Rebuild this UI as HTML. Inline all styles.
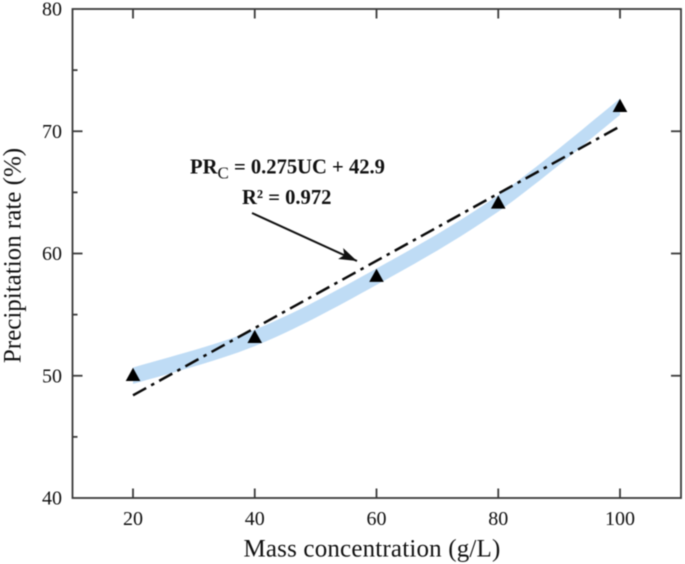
<!DOCTYPE html>
<html lang="en">
<head>
<meta charset="utf-8">
<title>Precipitation rate vs mass concentration</title>
<style>
html,body{margin:0;padding:0;background:#fff;width:685px;height:564px;overflow:hidden}
svg{display:block;filter:blur(0.4px)}
text{font-family:"Liberation Serif","Times New Roman",serif;fill:#111}
</style>
</head>
<body>
<svg id="chart" width="685" height="564" viewBox="0 0 685 564" xmlns="http://www.w3.org/2000/svg">
  <defs>
    <marker id="arrow-head" markerUnits="userSpaceOnUse" markerWidth="20" markerHeight="14" refX="18" refY="6" orient="auto">
      <path d="M0,0 L18,6 L0,12 L4,6 Z" fill="#111"/>
    </marker>
  </defs>
  <g id="band-layer"></g>
  <g id="fit-layer"></g>
  <g id="point-layer"></g>
  <g id="axis-layer"></g>
  <text x="372" y="556.5" font-size="25" text-anchor="middle" letter-spacing="0.18">Mass concentration (g/L)</text>
  <text transform="translate(20.5 255.5) rotate(-90)" font-size="25" text-anchor="middle">Precipitation rate (%)</text>
  <text x="190" y="173.5" font-size="20.6" font-weight="bold">PR<tspan font-size="17" font-weight="normal" dy="5">C</tspan><tspan dy="-5"> = 0.275UC + 42.9</tspan></text>
  <text x="242" y="204" font-size="20.6" font-weight="bold">R² = 0.972</text>
  <line x1="252" y1="213" x2="357" y2="261" stroke="#111" stroke-width="2" marker-end="url(#arrow-head)"/>
</svg>
<script>
const categories = [20, 40, 60, 80, 100];
const precipitationRates = [50, 53.1, 58.1, 64.1, 72];
const fitConcentrations = [20, 100];
const fitRates = [48.4, 70.4];
const xTickLabels = [20, 40, 60, 80, 100];
const yTickLabels = [40, 50, 60, 70, 80];
const yMinorTicks = [45, 55, 65, 75];

const NS = 'http://www.w3.org/2000/svg';
const plot = { left: 72.5, right: 681, top: 9, bottom: 498 };
const xScale = v => 133 + (v - 20) * 6.0875;
const yScale = v => plot.bottom - (v - 40) * 12.225;

function make(tag, parent, attrs, text) {
  const el = document.createElementNS(NS, tag);
  for (const k in attrs) el.setAttribute(k, attrs[k]);
  if (text !== undefined) el.textContent = text;
  parent.appendChild(el);
  return el;
}

/* Smooth band through the data, with vertical end cuts */
const bandLayer = document.getElementById('band-layer');
const pts = categories.map((c, i) => [xScale(c), yScale(precipitationRates[i])]);
const curve = [pts[0]];
for (let i = 0; i < pts.length - 1; i++) {
  const p0 = pts[Math.max(i - 1, 0)], p1 = pts[i], p2 = pts[i + 1], p3 = pts[Math.min(i + 2, pts.length - 1)];
  const c1 = [p1[0] + (p2[0] - p0[0]) / 6, p1[1] + (p2[1] - p0[1]) / 6];
  const c2 = [p2[0] - (p3[0] - p1[0]) / 6, p2[1] - (p3[1] - p1[1]) / 6];
  for (let s = 1; s <= 16; s++) {
    const t = s / 16, u = 1 - t;
    curve.push([
      u*u*u*p1[0] + 3*u*u*t*c1[0] + 3*u*t*t*c2[0] + t*t*t*p2[0],
      u*u*u*p1[1] + 3*u*u*t*c1[1] + 3*u*t*t*c2[1] + t*t*t*p2[1]
    ]);
  }
}
const halfBand = 8.2;
const upperEdge = curve.map(p => p[0].toFixed(1) + ',' + (p[1] - halfBand).toFixed(1));
const lowerEdge = curve.slice().reverse().map(p => p[0].toFixed(1) + ',' + (p[1] + halfBand).toFixed(1));
const band = make('polygon', bandLayer, { points: upperEdge.concat(lowerEdge).join(' '), fill: '#bfdcf5' });



/* Linear fit */
const fitLayer = document.getElementById('fit-layer');
const fit = make('line', fitLayer, {
  x1: xScale(fitConcentrations[0]), y1: yScale(fitRates[0]),
  x2: xScale(fitConcentrations[1]), y2: yScale(fitRates[1]),
  stroke: '#0a0a0a', 'stroke-width': 2.5, 'stroke-dasharray': '15 5.7 3.5 5.7'
});



/* Triangles */
const pointLayer = document.getElementById('point-layer');
categories.forEach((c, i) => {
  const x = xScale(c), y = yScale(precipitationRates[i]);
  const tri = make('polygon', pointLayer, {
    points: (x - 7.3) + ',' + (y + 5.2) + ' ' + (x + 7.3) + ',' + (y + 5.2) + ' ' + x + ',' + (y - 8),
    fill: '#000'
  });
  
  
});

/* Axes */
const axisLayer = document.getElementById('axis-layer');
const frame = make('rect', axisLayer, {
  x: plot.left, y: plot.top, width: plot.right - plot.left, height: plot.bottom - plot.top,
  fill: 'none', stroke: '#3a3a3a', 'stroke-width': 1.8
});



function tick(x1, y1, x2, y2, name) {
  const t = make('line', axisLayer, { x1: x1, y1: y1, x2: x2, y2: y2, stroke: '#3a3a3a', 'stroke-width': 1.8 });
  
  
}

xTickLabels.forEach(v => {
  const x = xScale(v);
  tick(x, plot.bottom, x, plot.bottom - 9.5, 'x-tick-' + v);
  tick(x, plot.top, x, plot.top + 9.5, 'x-top-tick-' + v);
  const label = make('text', axisLayer, { x: x, y: 525, 'font-size': 20, 'text-anchor': 'middle' }, String(v));
  
  
});

yTickLabels.forEach(v => {
  const y = yScale(v);
  if (v !== 40 && v !== 80) {
    tick(plot.left, y, plot.left + 10, y, 'y-tick-' + v);
    tick(plot.right, y, plot.right - 10, y, 'y-right-tick-' + v);
  }
  const label = make('text', axisLayer, { x: 62, y: y + 6.5, 'font-size': 20, 'text-anchor': 'end' }, String(v));
  
  
});

yMinorTicks.forEach(v => {
  const y = yScale(v);
  tick(plot.left, y, plot.left + 5, y, 'y-minor-tick-' + v);
});
</script>
</body>
</html>
